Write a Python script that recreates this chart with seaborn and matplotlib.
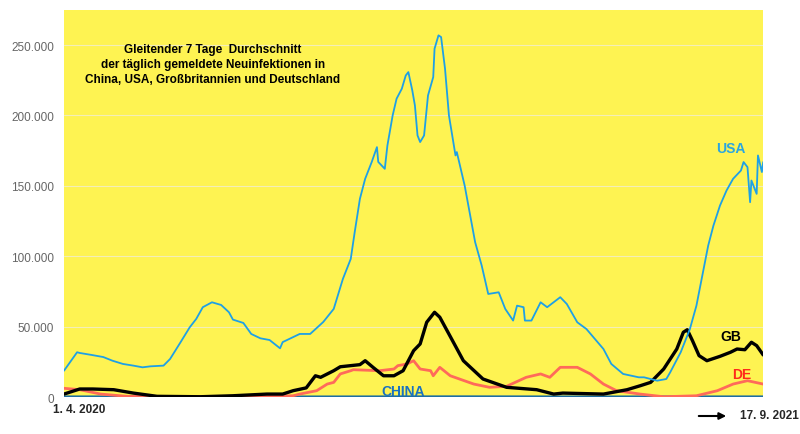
import pandas as pd
import matplotlib.pyplot as plt
import seaborn as sns

# 7-day averages, x = days since 1.4.2020
usa_days = [0, 10, 12, 21, 30, 37, 45, 53, 60, 66, 76, 81, 89, 96, 101, 106, 113, 120,
            126, 129, 137, 143, 150, 157, 165, 167, 180, 188, 198, 206, 213, 219, 222,
            226, 230, 235, 239, 240, 245, 247, 251, 254, 258, 261, 263, 266, 268, 270,
            272, 275, 278, 282, 283, 286, 288, 291, 294, 299, 300, 306, 314, 319, 324,
            332, 337, 343, 346, 351, 352, 357, 364, 369, 379, 384, 392, 399, 412, 418,
            427, 439, 443, 453, 460, 463, 471, 478, 483, 487, 492, 496, 501, 506, 511,
            517, 519, 522, 524, 525, 529, 530, 533, 534]
usa_vals = [18700, 31800, 31300, 29900, 28400, 25800, 23500, 22300, 21100, 21800, 22300,
            27000, 38900, 49500, 55500, 63800, 67300, 65400, 60200, 55000, 52600, 44800,
            41700, 40500, 34600, 39000, 44800, 44800, 53300, 62600, 83900, 98100, 117000,
            140800, 155000, 166900, 177500, 167000, 162100, 178700, 200000, 211900,
            219000, 228400, 230800, 217800, 207100, 185800, 181100, 185800, 214200,
            227300, 247400, 256900, 255700, 233200, 200000, 171600, 174000, 150200,
            110000, 93400, 73200, 74400, 62600, 54300, 64900, 63800, 54300, 54300, 67300,
            63800, 70900, 66100, 53100, 48300, 34100, 23500, 16400, 14000, 14000, 11600,
            12800, 17600, 31800, 48300, 64900, 83900, 107600, 121800, 136000, 146700,
            155000, 160900, 166900, 163300, 138400, 153800, 144300, 171600, 159800, 166900]

gb_days = [0, 12, 22, 38, 53, 71, 104, 129, 155, 167, 175, 185, 192, 196, 206, 211, 226,
           230, 236, 244, 252, 259, 267, 272, 277, 283, 287, 295, 305, 320, 338, 361, 374,
           381, 412, 430, 440, 448, 458, 468, 473, 476, 480, 485, 491, 501, 509, 514, 520,
           525, 529, 534]
gb_vals = [2100, 5700, 5700, 5200, 2800, 500, 200, 900, 2100, 2100, 4500, 6500, 15100,
           14000, 18700, 21500, 23000, 25800, 21100, 15100, 15100, 18700, 32900, 37700,
           53100, 60200, 56700, 43000, 25800, 12800, 6900, 5200, 2100, 2800, 2100, 5200,
           8000, 10400, 19900, 34100, 46000, 47800, 40000, 29400, 25800, 28900, 31800,
           34100, 33600, 38900, 36500, 29900]

de_days = [0, 12, 28, 48, 104, 155, 175, 180, 193, 201, 206, 211, 219, 221, 241, 252, 255,
           262, 267, 272, 280, 282, 287, 295, 313, 325, 338, 353, 364, 371, 379, 392, 402,
           412, 422, 440, 458, 483, 499, 511, 522, 534]
de_vals = [6200, 5200, 2100, 500, 200, 300, 900, 2100, 4500, 9200, 10400, 16400, 18700,
           19400, 18700, 19900, 22300, 23500, 25800, 19900, 18700, 15100, 21100, 15100,
           9200, 6900, 7600, 14000, 16400, 14000, 21100, 21100, 16400, 9200, 4500, 2100,
           200, 900, 4500, 9200, 11600, 9200]

china_days = [0, 100, 200, 300, 400, 534]
china_vals = [60, 20, 20, 110, 20, 60]

y_ticks = [0, 50000, 100000, 150000, 200000, 250000]
y_labels = ["0", "50.000", "100.000", "150.000", "200.000", "250.000"]
title_text = ("Gleitender 7 Tage  Durchschnitt\n"
              "der täglich gemeldete Neuinfektionen in\n"
              "China, USA, Großbritannien und Deutschland")

start = pd.Timestamp("2020-04-01")
end = pd.Timestamp("2021-09-17")


def make_df(days, vals):
    return pd.DataFrame({"date": start + pd.to_timedelta(days, unit="D"), "cases": vals})


sns.set_style("white")
plt.rcParams["font.family"] = ["Liberation Sans", "DejaVu Sans"]

fig = plt.figure(figsize=(8, 4.35), dpi=100)
ax = fig.add_axes([0.08, 0.085, 0.874, 0.89])
ax.set_facecolor("#fef352")

sns.lineplot(data=make_df(china_days, china_vals), x="date", y="cases", ax=ax,
             color="#1d6ea3", lw=2.2)
sns.lineplot(data=make_df(de_days, de_vals), x="date", y="cases", ax=ax,
             color="#ff6a5a", lw=2)
sns.lineplot(data=make_df(gb_days, gb_vals), x="date", y="cases", ax=ax,
             color="black", lw=2.4)
sns.lineplot(data=make_df(usa_days, usa_vals), x="date", y="cases", ax=ax,
             color="#1ea0e6", lw=1.3)

ax.set_xlim(start, end)
ax.set_ylim(0, 275000)
ax.set_yticks(y_ticks)
ax.set_yticklabels(y_labels, color="#666666", fontsize=8.5)
ax.set_xticks([])
ax.set_xlabel("")
ax.set_ylabel("")
ax.tick_params(axis="y", length=0, pad=7)
ax.grid(axis="y", color="#f3eeb8", lw=0.8)
for s in ax.spines.values():
    s.set_visible(False)

ax.text(0.213, 0.86, title_text, transform=ax.transAxes, ha="center", va="center",
        fontsize=8.5, fontweight="bold", linespacing=1.32, color="black")

ax.text(0.954, 0.642, "USA", transform=ax.transAxes, ha="center", va="center",
        color="#2aa6e0", fontsize=10, fontweight="bold")
ax.text(0.954, 0.157, "GB", transform=ax.transAxes, ha="center", va="center",
        color="black", fontsize=10, fontweight="bold")
ax.text(0.97, 0.06, "DE", transform=ax.transAxes, ha="center", va="center",
        color="#ff2a1a", fontsize=10, fontweight="bold")
ax.text(0.485, 0.016, "CHINA", transform=ax.transAxes, ha="center", va="center",
        color="#1a72c0", fontsize=10, fontweight="bold")

fig.text(79 / 800, 1 - 410 / 435, "1. 4. 2020", ha="center", va="center",
         fontsize=8.5, fontweight="bold")
fig.text(769 / 800, 1 - 416 / 435, "17. 9. 2021", ha="center", va="center",
         fontsize=8.5, fontweight="bold")
fig.add_artist(plt.Annotation("", xy=(729 / 800, 1 - 417 / 435), xytext=(696 / 800, 1 - 417 / 435),
                              xycoords="figure fraction",
                              arrowprops=dict(arrowstyle="-|>", color="black", lw=1.5)))

fig.savefig("out.png", dpi=100)
